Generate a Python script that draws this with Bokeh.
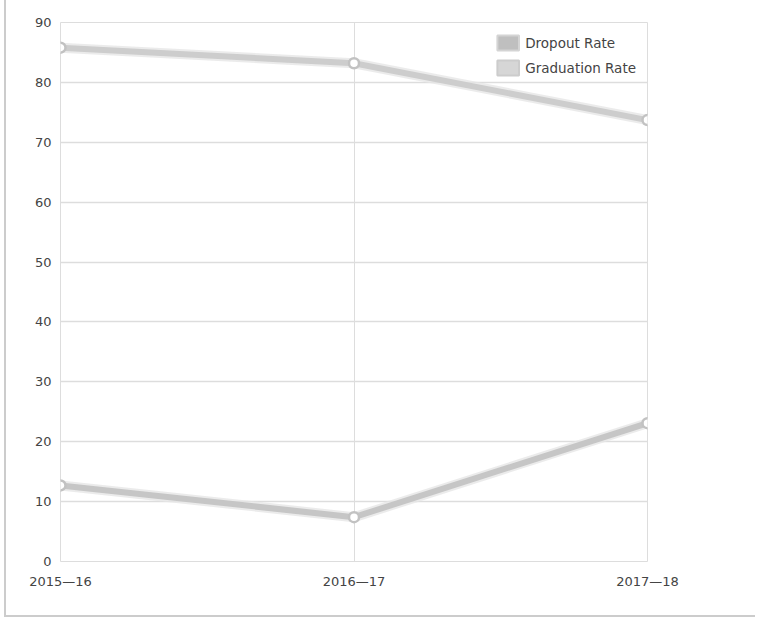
from bokeh.plotting import figure
from bokeh.models import Range1d, FixedTicker, ColumnDataSource, Legend, LegendItem
from bokeh.embed import file_html
from bokeh.resources import INLINE

years = ["2015\u201416", "2016\u201417", "2017\u201418"]
dropout = [12.7, 7.4, 23.1]
graduation = [85.8, 83.2, 73.7]
y_ticks = [0, 10, 20, 30, 40, 50, 60, 70, 80, 90]

xs = list(range(len(years)))

p = figure(width=751, height=617, output_backend="svg", toolbar_location=None,
           x_range=Range1d(0, len(years) - 1), y_range=Range1d(0, 90),
           min_border_left=54, min_border_right=110, min_border_top=22, min_border_bottom=56)
p.styles = {"border-left": "2px solid #cccccc", "border-bottom": "2px solid #cccccc",
            "margin-left": "4px"}

p.outline_line_color = "#dddddd"
p.outline_line_width = 1
p.background_fill_color = "white"
p.border_fill_color = "white"

p.xaxis.ticker = FixedTicker(ticks=xs)
p.xaxis.major_label_overrides = {i: y for i, y in enumerate(years)}
p.yaxis.ticker = FixedTicker(ticks=y_ticks)
for ax in (p.xaxis, p.yaxis):
    ax.axis_line_color = None
    ax.major_tick_line_color = None
    ax.minor_tick_line_color = None
    ax.major_label_text_font = "DejaVu Sans"
    ax.major_label_text_font_size = "13px"
    ax.major_label_text_color = "#444444"
p.yaxis.major_label_standoff = 3
p.xaxis.major_label_standoff = 6

p.xgrid.ticker = FixedTicker(ticks=[1])
p.xgrid.grid_line_color = "#dddddd"
p.ygrid.ticker = FixedTicker(ticks=y_ticks)
p.ygrid.grid_line_color = "#dddddd"
p.ygrid.grid_line_width = 1.5

src_d = ColumnDataSource(dict(x=xs, y=dropout))
src_g = ColumnDataSource(dict(x=xs, y=graduation))

for src, col in ((src_d, "#c6c6c6"), (src_g, "#cdcdcd")):
    p.line("x", "y", source=src, line_width=10, line_color="#e6e6e6", line_alpha=0.8)
    p.line("x", "y", source=src, line_width=6, line_color=col)
    p.scatter("x", "y", source=src, size=10, fill_color="white", line_color="#c2c2c2", line_width=2.5)

# legend swatches (placed outside the visible range)
r_d = p.quad(left=[-10], right=[-9], top=[-10], bottom=[-11], fill_color="#bfbfbf", line_color="#d4d4d4", line_width=2)
r_g = p.quad(left=[-10], right=[-9], top=[-10], bottom=[-11], fill_color="#d6d6d6", line_color="#cccccc", line_width=2)
legend = Legend(items=[LegendItem(label="Dropout Rate", renderers=[r_d]),
                       LegendItem(label="Graduation Rate", renderers=[r_g])],
                location="top_right", orientation="vertical")
legend.glyph_width = 27
legend.glyph_height = 19
legend.spacing = 6
legend.label_standoff = 4
legend.padding = 0
legend.margin = 11
legend.border_line_color = None
legend.background_fill_alpha = 0
legend.label_text_font = "DejaVu Sans"
legend.label_text_font_size = "13.5px"
legend.label_text_color = "#444444"
p.add_layout(legend)

open("out.html", "w").write(file_html(p, INLINE))
